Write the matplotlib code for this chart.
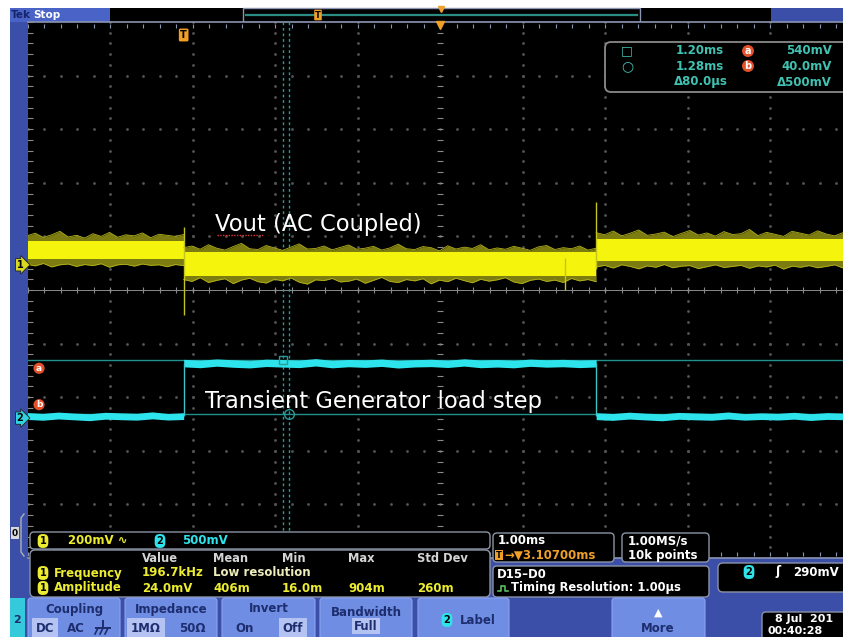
import numpy as np
import matplotlib
matplotlib.use("Agg")
import matplotlib.pyplot as plt
from matplotlib.patches import FancyBboxPatch, Rectangle

# scope settings
ch1_scale = 200.0      # mV/div (AC coupled)
ch2_scale = 500.0      # mV/div
ch1_offset = 0.47      # div, position of the "1" ground marker
ch2_offset = -2.39     # div, position of the "2" ground marker
t_div = 1.0            # ms/div
t_delay = 3.107        # ms from trigger to screen centre
cursor_t = [1.20, 1.28]      # ms
cursor_v = [540.0, 40.0]     # mV on ch2

# Vout (ch1) noise envelope in mV, split before / during / after the load step
seg_t = [(-1.9, 0.0), (0.0, 5.0), (5.0, 8.2)]
ch1_top = [
    [108, 118, 102, 112, 125, 104, 110, 100, 116, 106, 121, 103, 112, 108, 119, 101, 114, 110, 106, 113],
    [64, 70, 58, 75, 62, 55, 68, 80, 60, 57,
     72, 63, 54, 66, 78, 59, 61, 70, 56, 65,
     74, 58, 62, 69, 55, 63, 77, 60, 57, 68,
     64, 52, 71, 59, 66, 61, 75, 56, 63, 58,
     69, 62, 54, 67, 72, 57, 64, 60, 70, 55, 62],
    [120, 112, 126, 108, 118, 130, 110, 115, 122, 105, 117, 128, 111, 119, 107, 124,
     113, 116, 132, 109, 121, 114, 106, 125, 118, 111, 127, 115, 108, 120, 113, 117],
]
ch1_bot = [
    [2, -4, 5, -8, 0, 3, -6, 1, -3, 4, -9, 0, 2, -5, 3, -2, 0, -7, 1, -3],
    [-55, -62, -48, -66, -58, -52, -70, -57, -50, -63,
     -68, -54, -60, -49, -65, -72, -56, -59, -51, -64,
     -61, -53, -69, -58, -47, -62, -66, -55, -60, -52,
     -71, -57, -63, -50, -59, -67, -54, -61, -56, -48,
     -64, -70, -58, -53, -62, -57, -66, -51, -60, -55, -63],
    [-8, -2, -12, 0, -6, -15, -4, -9, 1, -11, -5, -3, -14, -7, 0, -10,
     -6, -2, -13, -4, -8, -1, -16, -5, -9, -3, -11, -6, 0, -12, -7, -4],
]
ch1_core_hi = [88, 46, 96]
ch1_core_lo = [20, -40, 14]
# single spikes on the Vout trace
spike_t = [0.0, 5.0, 4.62]
spike_lo = [-187, -15, -93]
spike_hi = [142, 235, 25]

# load step (ch2) envelope in mV
ch2_top = [
    [52, 44, 56, 47, 41, 54, 49, 45, 58, 43, 50],
    [548, 540, 552, 544, 536, 550, 546, 541, 555, 538, 547, 543, 551,
     537, 545, 549, 540, 553, 542, 546, 539, 550, 544, 548, 541, 545],
    [50, 43, 55, 46, 40, 53, 48, 44, 57, 42, 49, 45, 54, 41, 51, 47, 52],
]
ch2_bot = [
    [-12, -20, -8, -16, -24, -10, -15, -19, -7, -18, -13],
    [478, 470, 484, 474, 468, 481, 476, 471, 486, 469, 479, 473, 482,
     467, 477, 480, 472, 485, 470, 476, 469, 483, 475, 479, 471, 477],
    [-14, -21, -9, -17, -25, -11, -16, -20, -8, -19, -13, -18, -10, -22, -12, -15, -11],
]
ch2_low, ch2_high = 18.0, 510.0
step_t = [0.0, 5.0]


def v1(mv):
    return np.asarray(mv, dtype=float) / ch1_scale + ch1_offset


def v2(mv):
    return np.asarray(mv, dtype=float) / ch2_scale + ch2_offset


W, H = 843, 637
fig = plt.figure(figsize=(W / 100, H / 100), dpi=100)
fig.patch.set_facecolor("white")

bezel = "#3c4fa8"
btn = "#6f8de2"
navy = "#1d2d6e"
teal_txt = "#40c2b2"
yel = "#ecec30"
cyan = "#2ee4ec"
orange = "#f0a028"
red = "#e4502a"
ui_font = dict(fontweight="bold", family="DejaVu Sans")


def rect(a, x0, y0, x1, y1, fc, **kw):
    a.add_patch(Rectangle((x0, y0), x1 - x0, y1 - y0, fc=fc, ec=kw.pop("ec", "none"), **kw))


def rbox(a, x0, y0, x1, y1, fc="black", ec="#8c93a6", lw=1.0, r=4):
    a.add_patch(FancyBboxPatch((x0 + r, y0 + r), x1 - x0 - 2 * r, y1 - y0 - 2 * r,
                               boxstyle="round,pad=%g,rounding_size=%g" % (r, r),
                               fc=fc, ec=ec, lw=lw))


def badge(a, x, y, s, fc, size=7, **kw):
    a.text(x, y, s, ha="center", va="center", fontsize=size, color="black", fontweight="bold",
           bbox=dict(boxstyle="round,pad=0.2,rounding_size=0.5", fc=fc, ec="none"), **kw)


# ---------- background: bezel and top bar (pixel coordinates) ----------
bg = fig.add_axes([0, 0, 1, 1], zorder=0)
bg.set_xlim(0, W)
bg.set_ylim(H, 0)
bg.axis("off")
rect(bg, 10, 8, W, H, bezel)
rect(bg, 10, 8, 110, 22, "#4a63c6")
bg.text(11, 15.5, "Tek", ha="left", va="center", color="#16246a", fontsize=7.5, **ui_font)
bg.text(33, 15.5, "Stop", ha="left", va="center", color="white", fontsize=7.5, **ui_font)
rect(bg, 110, 8, 771, 22, "black")
rect(bg, 243, 8, 640, 22, "black", ec="#8a94b0", lw=1.0)
bg.plot([246, 637], [15, 15], color="#2c8c84", lw=1.6)
bg.text(318, 15, "T", ha="center", va="center", fontsize=6, color="black", fontweight="bold",
        bbox=dict(boxstyle="round,pad=0.1", fc=orange, ec="none"))
bg.plot([441], [9], marker="v", color=orange, ms=5)

# ---------- graticule and traces ----------
x_lo, x_hi = t_delay - 5 * t_div, t_delay + 5 * t_div
ax = fig.add_axes([27.5 / W, (H - 558) / H, 825 / W, 536 / H], zorder=1)
ax.set_facecolor("black")
ax.set_xlim(x_lo, x_hi)
ax.set_ylim(-5, 5)
ax.set_xticks([])
ax.set_yticks([])
for s in ax.spines.values():
    s.set_visible(False)

minor_x = x_lo + np.arange(51) * t_div / 5
minor_y = np.arange(-25, 26) / 5
grid_c = "#555555"
for k in range(1, 10):
    gx = x_lo + k * t_div
    gy = k - 5
    if k != 5:
        ax.plot(np.full(minor_y.size, gx), minor_y, ls="none", marker="s", ms=0.9, color=grid_c, zorder=1)
        ax.plot(minor_x, np.full(minor_x.size, gy), ls="none", marker="s", ms=0.9, color=grid_c, zorder=1)
ax.axhline(0, color="#8a8a8a", lw=0.7, zorder=1)
ax.plot(minor_x, np.zeros(minor_x.size), ls="none", marker="|", ms=4, mew=0.8, color="#8a8a8a", zorder=1)
ax.plot(np.full(minor_y.size, t_delay), minor_y, ls="none", marker="_", ms=4, mew=0.8, color="#8a8a8a", zorder=1)
ax.axhline(5, color="#8a94b0", lw=1.2, zorder=1, clip_on=False)
ax.axhline(-5, color="#8a94b0", lw=1.2, zorder=1, clip_on=False)
ax.plot(minor_x, np.full(minor_x.size, 4.93), ls="none", marker="|", ms=3, mew=0.8, color="#8a94b0", zorder=1)
ax.plot(minor_x, np.full(minor_x.size, -4.93), ls="none", marker="|", ms=3, mew=0.8, color="#8a94b0", zorder=1)
ax.plot(np.full(minor_y.size, x_lo + 0.03), minor_y, ls="none", marker="_", ms=4, mew=0.8, color="#8a8a8a", zorder=1)

# cursors
for cv in cursor_v:
    ax.axhline(v2(cv), color="#23908e", lw=1.0, zorder=2)
for ct in cursor_t:
    ax.axvline(ct, color="#2a9c98", lw=1.0, ls=(0, (2, 2)), zorder=2)
ax.plot([cursor_t[0]], [v2(cursor_v[0])], marker="s", ms=6, mfc="none", mec="#2a9c98", mew=1.0, zorder=4)
ax.plot([cursor_t[1]], [v2(cursor_v[1])], marker="o", ms=7, mfc="none", mec="#2a9c98", mew=1.0, zorder=4)

# ch1 Vout
for (a, b), top, bot, hi, lo in zip(seg_t, ch1_top, ch1_bot, ch1_core_hi, ch1_core_lo):
    tt = np.linspace(a, b, len(top))
    ax.fill_between(tt, v1(bot), v1(top), color="#7c7c10", lw=0, zorder=3)
    ax.plot(tt, v1(top), color="#b4b41a", lw=0.6, zorder=3)
    ax.plot(tt, v1(bot), color="#b4b41a", lw=0.6, zorder=3)
    ax.fill_between([a, b], v1([lo, lo]), v1([hi, hi]), color="#f4f40c", lw=0, zorder=3)
ax.vlines(spike_t, v1(spike_lo), v1(spike_hi), color="#c4c41c", lw=1.0, zorder=3)

# ch2 load step
for (a, b), top, bot in zip(seg_t, ch2_top, ch2_bot):
    tt = np.linspace(a, b, len(top))
    ax.fill_between(tt, v2(bot), v2(top), color=cyan, lw=0, zorder=3)
ax.vlines(step_t, v2(ch2_low), v2(ch2_high), color="#3cc4c4", lw=1.0, zorder=3)

# annotations
lbl_x, lbl_y = 0.379, 1.10
ax.text(lbl_x, lbl_y, "Vout (AC Coupled)", color="white", fontsize=16.3, family="DejaVu Sans",
        ha="left", va="baseline", zorder=5)
# spell-check squiggle under "Vout"
ax.plot([lbl_x + 0.02, lbl_x + 0.58], [lbl_y - 0.08] * 2, color="#e03030", lw=1.0,
        ls=(0, (1, 1)), zorder=5)
ax.text(0.258, -2.20, "Transient Generator load step", color="white", fontsize=16.3,
        family="DejaVu Sans", ha="left", va="baseline", zorder=5)

# channel / cursor markers
ax.text(-0.009, ch1_offset, "1", transform=ax.get_yaxis_transform(), ha="center", va="center",
        fontsize=7, fontweight="bold", color="black", clip_on=False, zorder=6,
        bbox=dict(boxstyle="rarrow,pad=0.12", fc="#d8d820", ec="#202020", lw=0.6))
ax.text(-0.009, ch2_offset, "2", transform=ax.get_yaxis_transform(), ha="center", va="center",
        fontsize=7, fontweight="bold", color="black", clip_on=False, zorder=6,
        bbox=dict(boxstyle="rarrow,pad=0.12", fc="#30d4e0", ec="#202020", lw=0.6))
ax.text(x_lo + 0.14, v2(cursor_v[0]) - 0.15, "a", ha="center", va="center", fontsize=6.5,
        color="white", fontweight="bold", zorder=6,
        bbox=dict(boxstyle="circle,pad=0.12", fc=red, ec="none"))
ax.text(x_lo + 0.14, v2(cursor_v[1]) + 0.17, "b", ha="center", va="center", fontsize=6.5,
        color="white", fontweight="bold", zorder=6,
        bbox=dict(boxstyle="circle,pad=0.12", fc=red, ec="none"))
ax.text(0.0, 1 - 13 / 536, "T", transform=ax.get_xaxis_transform(), ha="center", va="center",
        fontsize=7, fontweight="bold", color="black", zorder=6,
        bbox=dict(boxstyle="round,pad=0.15", fc=orange, ec="none"))
ax.plot([t_delay], [4.95], marker="v", color=orange, ms=6, clip_on=False, zorder=6)

# ---------- readouts and soft keys (pixel coordinates) ----------
ui = fig.add_axes([0, 0, 1, 1], zorder=2)
ui.set_xlim(0, W)
ui.set_ylim(H, 0)
ui.axis("off")

# cursor readout
rbox(ui, 605, 42, 852, 92, ec="#8a8a8a", lw=1.3, r=6)
ui.text(627, 51, "\u25a1", ha="center", va="center", color=teal_txt, fontsize=9)
ui.text(627, 66, "\u25cb", ha="center", va="center", color=teal_txt, fontsize=10)
for y, s in zip([51, 66, 82], ["1.20ms", "1.28ms", "\u039480.0\u00b5s"]):
    ui.text(724 if y < 80 else 728, y, s, ha="right", va="center", color=teal_txt, fontsize=8.5, **ui_font)
for y, s in zip([51, 66, 82], ["540mV", "40.0mV", "\u0394500mV"]):
    ui.text(832, y, s, ha="right", va="center", color=teal_txt, fontsize=8.5, **ui_font)
for y, s in zip([51, 66], ["a", "b"]):
    ui.text(748, y, s, ha="center", va="center", color="white", fontsize=7, fontweight="bold",
            bbox=dict(boxstyle="circle,pad=0.1", fc=red, ec="none"))

# digital group marker
ui.text(15, 533, "0", ha="center", va="center", color="black", fontsize=6.5, fontweight="bold",
        bbox=dict(boxstyle="square,pad=0.15", fc="#d8d8d8", ec="none"))
ui.plot([24, 21, 21, 24], [514, 518, 552, 556], color="#b0b0b0", lw=1)

# channel scale row
rbox(ui, 30, 532, 490, 549, r=4)
badge(ui, 43, 541, "1", yel)
ui.text(68, 541, "200mV \u223f", ha="left", va="center", color=yel, fontsize=8.5, **ui_font)
badge(ui, 160, 541, "2", cyan)
ui.text(182, 541, "500mV", ha="left", va="center", color=cyan, fontsize=8.5, **ui_font)

# measurements
rbox(ui, 30, 550, 490, 597, r=5)
meas_cols = [142, 213, 282, 348, 417]
for x, s in zip(meas_cols, ["Value", "Mean", "Min", "Max", "Std Dev"]):
    ui.text(x, 558, s, ha="left", va="center", color="#d4d4d4", fontsize=8.3, **ui_font)
badge(ui, 43, 573, "1", yel)
ui.text(54, 573, "Frequency", ha="left", va="center", color=yel, fontsize=8.5, **ui_font)
ui.text(142, 573, "196.7kHz", ha="left", va="center", color=yel, fontsize=8.5, **ui_font)
ui.text(213, 573, "Low resolution", ha="left", va="center", color="#eeeebc", fontsize=8.5, **ui_font)
badge(ui, 43, 588, "1", yel)
ui.text(54, 588, "Amplitude", ha="left", va="center", color=yel, fontsize=8.5, **ui_font)
for x, s in zip(meas_cols, ["24.0mV", "406m", "16.0m", "904m", "260m"]):
    ui.text(x, 588, s, ha="left", va="center", color=yel, fontsize=8.5, **ui_font)

# timebase / acquisition
rbox(ui, 493, 533, 614, 562, r=4)
ui.text(498, 541, "1.00ms", ha="left", va="center", color="white", fontsize=8.5, **ui_font)
ui.text(499, 555, "T", ha="center", va="center", color="black", fontsize=6, fontweight="bold",
        bbox=dict(boxstyle="square,pad=0.1", fc=orange, ec="none"))
ui.text(504, 555, "\u2192\u25bc3.10700ms", ha="left", va="center", color=orange, fontsize=8.5, **ui_font)
rbox(ui, 622, 533, 709, 562, r=4)
ui.text(628, 541, "1.00MS/s", ha="left", va="center", color="white", fontsize=8.5, **ui_font)
ui.text(628, 555, "10k points", ha="left", va="center", color="white", fontsize=8.5, **ui_font)
rbox(ui, 493, 566, 709, 597, r=4)
ui.text(497, 574, "D15\u2013D0", ha="left", va="center", color="white", fontsize=8.5, **ui_font)
ui.plot([498, 501, 501, 505, 505, 508], [591, 591, 586, 586, 591, 591], color="#58c058", lw=1.2)
ui.text(511, 588, "Timing Resolution: 1.00\u00b5s", ha="left", va="center", color="white",
        fontsize=8.3, **ui_font)
rbox(ui, 718, 563, 856, 592, r=5)
badge(ui, 749, 572, "2", cyan)
ui.text(778, 572, "\u0283", ha="center", va="center", color="white", fontsize=9, **ui_font)
ui.text(793, 572, "290mV", ha="left", va="center", color="white", fontsize=8.5, **ui_font)

# soft keys
rect(ui, 10, 598, 25, H, "#34cadc")
ui.text(17.5, 620, "2", ha="center", va="center", color=navy, fontsize=8, **ui_font)
keys = [(28, 120, "Coupling"), (125, 217, "Impedance"), (222, 315, "Invert"),
        (320, 412, "Bandwidth"), (418, 509, ""), (612, 705, "")]
for x0, x1, title in keys:
    rbox(ui, x0, 598, x1, H + 6, fc=btn, ec="#8aa4f0", lw=0.8, r=3)
    if title:
        ui.text((x0 + x1) / 2, 609 if title != "Bandwidth" else 612, title, ha="center", va="center",
                color=navy, fontsize=8.5, **ui_font)
opts = [(45, "DC", True), (76, "AC", False),
        (146, "1M\u03a9", True), (192, "50\u03a9", False),
        (245, "On", False), (293, "Off", True)]
for x, s, sel in opts:
    kw = {}
    if sel:
        kw["bbox"] = dict(boxstyle="square,pad=0.3", fc="#b4c3f2", ec="none")
    ui.text(x, 628, s, ha="center", va="center", color=navy, fontsize=8.5, **ui_font, **kw)
# chassis-ground symbol (no installed font has it)
ui.plot([103, 103], [621, 628], color=navy, lw=1.4)
ui.plot([96, 110], [628, 628], color=navy, lw=1.4)
for gx in [98, 103, 108]:
    ui.plot([gx, gx - 3], [628, 634], color=navy, lw=1.2)
ui.text(366, 626, "Full", ha="center", va="center", color=navy, fontsize=8.5, **ui_font,
        bbox=dict(boxstyle="square,pad=0.15", fc="#b4c3f2", ec="none"))
badge(ui, 447, 620, "2", cyan)
ui.text(478, 620, "Label", ha="center", va="center", color=navy, fontsize=8.5, **ui_font)
ui.text(658, 613, "\u25b2", ha="center", va="center", color="white", fontsize=8)
ui.text(658, 628, "More", ha="center", va="center", color=navy, fontsize=8.5, **ui_font)
rbox(ui, 762, 612, 858, H + 8, r=4)
ui.text(775, 619, "8 Jul  201", ha="left", va="center", color="white", fontsize=8, **ui_font)
ui.text(767, 631, "00:40:28", ha="left", va="center", color="white", fontsize=8, **ui_font)

fig.savefig("out.png", dpi=100, facecolor=fig.get_facecolor())
